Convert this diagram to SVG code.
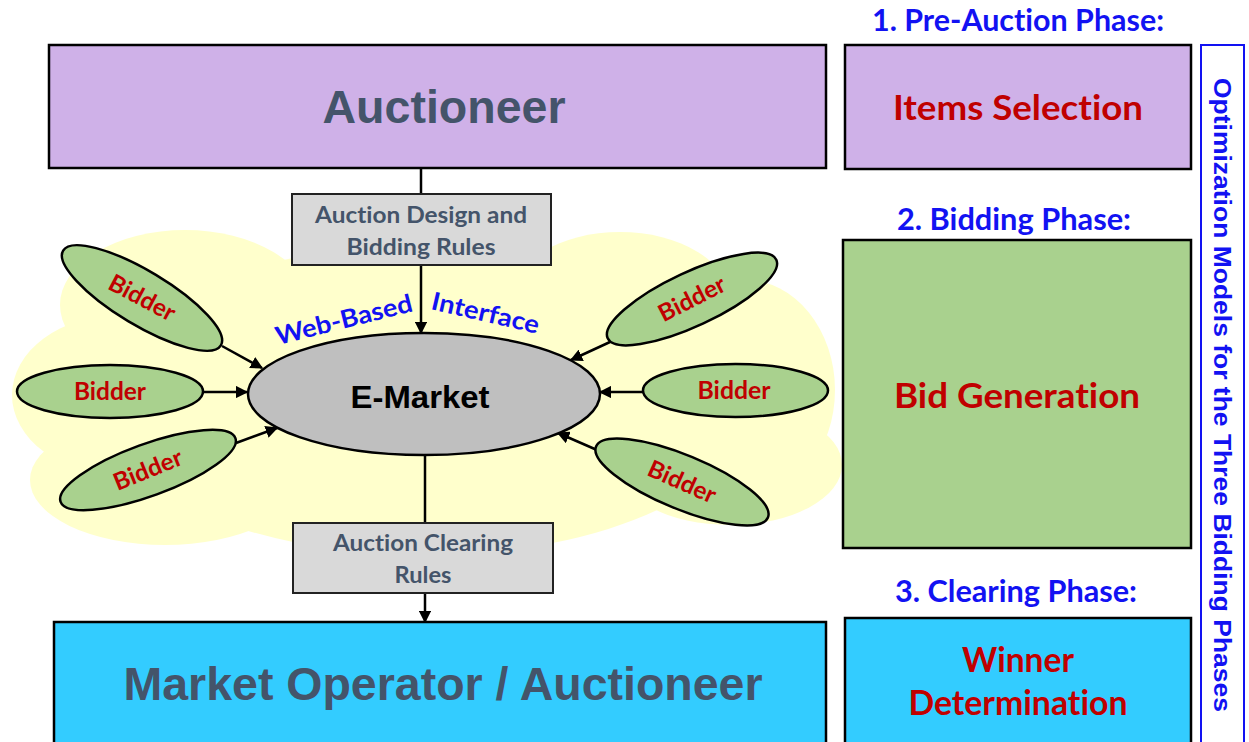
<svg xmlns="http://www.w3.org/2000/svg" width="1249" height="742" viewBox="0 0 1249 742">
  <defs>
    <marker id="head" viewBox="0 0 10 10" refX="9" refY="5" markerWidth="5" markerHeight="5" orient="auto" markerUnits="strokeWidth">
      <path d="M0,0 L10,5 L0,10 z" fill="#000"/>
    </marker>
    <style>
      .box { stroke: #000; stroke-width: 2.5; }
      .rule { fill: #D9D9D9; stroke: #222; stroke-width: 2; }
      .bidder { fill: #A9D18E; stroke: #000; stroke-width: 2.5; }
      .cal { font-family: Lato, "Open Sans", sans-serif; font-weight: bold; font-variant-ligatures: none; }
      .ari { font-family: "Liberation Sans", Arial, sans-serif; font-weight: bold; }
      .slate { fill: #44546A; }
      .red { fill: #C00000; }
      .blue { fill: #1212F2; }
      .bidtxt { font-family: Lato, "Open Sans", sans-serif; font-weight: bold; font-size: 24px; fill: #C00000; }
      .edge { stroke: #000; stroke-width: 2.5; fill: none; }
    </style>
  </defs>

  <rect width="1249" height="742" fill="#fff"/>

  <!-- cloud backdrop behind the e-market -->
  <g id="cloud" fill="#FFFFCC">
    <ellipse cx="120" cy="395" rx="108" ry="80"/>
    <ellipse cx="185" cy="305" rx="125" ry="75"/>
    <ellipse cx="165" cy="480" rx="135" ry="65"/>
    <ellipse cx="425" cy="400" rx="330" ry="155"/>
    <ellipse cx="620" cy="300" rx="110" ry="68"/>
    <ellipse cx="745" cy="390" rx="90" ry="110"/>
    <ellipse cx="730" cy="465" rx="112" ry="60"/>
  </g>

  <!-- connectors -->
  <g id="connectors">
    <line class="edge" x1="421" y1="168" x2="421" y2="194"/>
    <line class="edge" x1="421" y1="265" x2="421" y2="333" marker-end="url(#head)"/>
    <line class="edge" x1="425" y1="455" x2="425" y2="523"/>
    <line class="edge" x1="425" y1="593" x2="425" y2="622" marker-end="url(#head)"/>
    <line class="edge" x1="222" y1="346" x2="262" y2="368" marker-end="url(#head)"/>
    <line class="edge" x1="203" y1="392" x2="247" y2="392" marker-end="url(#head)"/>
    <line class="edge" x1="236" y1="443" x2="277" y2="428" marker-end="url(#head)"/>
    <line class="edge" x1="610" y1="342" x2="571" y2="360" marker-end="url(#head)"/>
    <line class="edge" x1="643" y1="392" x2="600" y2="392" marker-end="url(#head)"/>
    <line class="edge" x1="597" y1="450" x2="558" y2="433" marker-end="url(#head)"/>
  </g>

  <g id="auctioneer">
    <rect class="box" x="49" y="45" width="777" height="123" fill="#CFB1E8"/>
    <text class="ari slate" x="444" y="123" font-size="46" text-anchor="middle" textLength="243" lengthAdjust="spacingAndGlyphs">Auctioneer</text>
  </g>

  <g id="design-rules">
    <rect class="rule" x="292" y="194" width="259" height="71"/>
    <text class="cal slate" x="421" y="223" font-size="23" text-anchor="middle" textLength="212" lengthAdjust="spacingAndGlyphs">Auction Design and</text>
    <text class="cal slate" x="421" y="255" font-size="23" text-anchor="middle" textLength="149" lengthAdjust="spacingAndGlyphs">Bidding Rules</text>
  </g>

  <g id="interface-label" class="cal blue" font-size="25">
    <text transform="translate(278,345) rotate(-14)" textLength="140" lengthAdjust="spacingAndGlyphs">Web-Based</text>
    <text transform="translate(430,309) rotate(13)" textLength="110" lengthAdjust="spacingAndGlyphs">Interface</text>
  </g>

  <g id="e-market">
    <ellipse cx="424" cy="394" rx="176" ry="61" fill="#BFBFBF" stroke="#000" stroke-width="2.5"/>
    <text class="ari" x="420" y="408" font-size="32" text-anchor="middle" fill="#000" textLength="139" lengthAdjust="spacingAndGlyphs">E-Market</text>
  </g>

  <g id="bidder-left-top">
    <ellipse class="bidder" cx="0" cy="0" rx="92" ry="27" transform="translate(142,298) rotate(31)"/>
    <text class="bidtxt" transform="translate(142,298) rotate(28)" y="8" text-anchor="middle" textLength="72" lengthAdjust="spacingAndGlyphs">Bidder</text>
  </g>
  <g id="bidder-left-mid">
    <ellipse class="bidder" cx="110" cy="391.5" rx="93" ry="26.5"/>
    <text class="bidtxt" x="110" y="400" text-anchor="middle" textLength="72" lengthAdjust="spacingAndGlyphs">Bidder</text>
  </g>
  <g id="bidder-left-bottom">
    <ellipse class="bidder" cx="0" cy="0" rx="93" ry="26" transform="translate(148,470) rotate(-20)"/>
    <text class="bidtxt" transform="translate(148,470) rotate(-22)" y="8" text-anchor="middle" textLength="72" lengthAdjust="spacingAndGlyphs">Bidder</text>
  </g>
  <g id="bidder-right-top">
    <ellipse class="bidder" cx="0" cy="0" rx="93" ry="27" transform="translate(692,299) rotate(-25)"/>
    <text class="bidtxt" transform="translate(692,299) rotate(-27)" y="8" text-anchor="middle" textLength="72" lengthAdjust="spacingAndGlyphs">Bidder</text>
  </g>
  <g id="bidder-right-mid">
    <ellipse class="bidder" cx="735.5" cy="390.5" rx="92.5" ry="26.5"/>
    <text class="bidtxt" x="734" y="399" text-anchor="middle" textLength="73" lengthAdjust="spacingAndGlyphs">Bidder</text>
  </g>
  <g id="bidder-right-bottom">
    <ellipse class="bidder" cx="0" cy="0" rx="93" ry="27" transform="translate(682,482) rotate(22.5)"/>
    <text class="bidtxt" transform="translate(682,482) rotate(24)" y="8" text-anchor="middle" textLength="72" lengthAdjust="spacingAndGlyphs">Bidder</text>
  </g>

  <g id="clearing-rules">
    <rect class="rule" x="293" y="523" width="260" height="70"/>
    <text class="cal slate" x="423" y="551" font-size="23" text-anchor="middle" textLength="180" lengthAdjust="spacingAndGlyphs">Auction Clearing</text>
    <text class="cal slate" x="423" y="583" font-size="23" text-anchor="middle" textLength="57" lengthAdjust="spacingAndGlyphs">Rules</text>
  </g>

  <g id="market-operator">
    <rect class="box" x="54" y="622" width="772" height="130" fill="#33CCFF"/>
    <text class="ari slate" x="443" y="700" font-size="46" text-anchor="middle" textLength="639" lengthAdjust="spacingAndGlyphs">Market Operator / Auctioneer</text>
  </g>

  <g id="phase-1">
    <text class="cal blue" x="1018" y="31" font-size="30" text-anchor="middle" textLength="292" lengthAdjust="spacingAndGlyphs">1. Pre-Auction Phase:</text>
    <rect class="box" x="845" y="45" width="346" height="124" fill="#CFB1E8"/>
    <text class="cal red" x="1018" y="120" font-size="35" text-anchor="middle" textLength="250" lengthAdjust="spacingAndGlyphs">Items Selection</text>
  </g>

  <g id="phase-2">
    <text class="cal blue" x="1014" y="230" font-size="30" text-anchor="middle" textLength="234" lengthAdjust="spacingAndGlyphs">2. Bidding Phase:</text>
    <rect class="box" x="843" y="240" width="348" height="308" fill="#A9D18E"/>
    <text class="cal red" x="1017" y="408" font-size="35" text-anchor="middle" textLength="246" lengthAdjust="spacingAndGlyphs">Bid Generation</text>
  </g>

  <g id="phase-3">
    <text class="cal blue" x="1016" y="602" font-size="30" text-anchor="middle" textLength="242" lengthAdjust="spacingAndGlyphs">3. Clearing Phase:</text>
    <rect class="box" x="845" y="618" width="346" height="134" fill="#33CCFF"/>
    <text class="cal red" x="1018" y="672" font-size="34" text-anchor="middle" textLength="112" lengthAdjust="spacingAndGlyphs">Winner</text>
    <text class="cal red" x="1018" y="715" font-size="34" text-anchor="middle" textLength="219" lengthAdjust="spacingAndGlyphs">Determination</text>
  </g>

  <g id="optimization-models">
    <rect x="1201" y="45" width="43" height="710" fill="#fff" stroke="#1212F2" stroke-width="2"/>
    <text class="ari blue" transform="translate(1222,395) rotate(90)" y="8.5" font-size="24" text-anchor="middle" textLength="634" lengthAdjust="spacingAndGlyphs">Optimization Models for the Three Bidding Phases</text>
  </g>
</svg>
